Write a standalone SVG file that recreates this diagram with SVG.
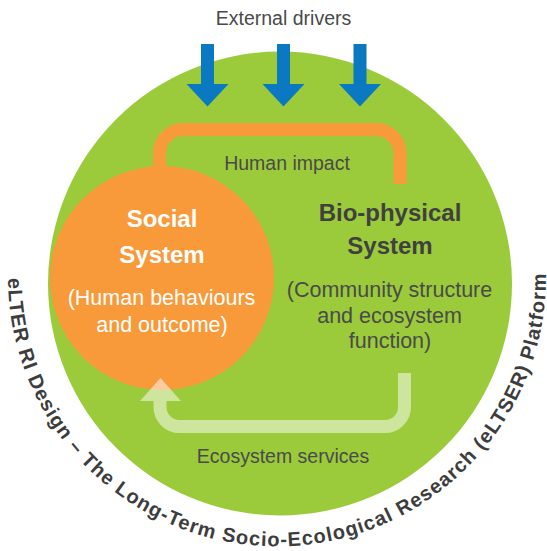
<svg xmlns="http://www.w3.org/2000/svg" width="547" height="551" viewBox="0 0 547 551">
  <style>
    .lbl { font-family: "Liberation Sans", Arial, sans-serif; fill: #4a4a4a; text-anchor: middle; }
    .small { font-size: 19.5px; }
    .desc { font-size: 21.5px; }
    .bold { font-size: 24px; font-weight: bold; }
    .white { fill: #ffffff; }
    .dark { fill: #404040; }
    .driver { fill: #0a79c1; }
  </style>
  <defs>
    <path id="ringPath" d="M 8,278 A 269 269 0 1 0 545.9,270"/>
    <polygon id="driverArrow" points="-6.5,0 6.5,0 6.5,40 21,40 0,62.5 -21,40 -6.5,40"/>
  </defs>
  <rect width="547" height="551" fill="#ffffff"/>

  <g id="bio-physical-system">
    <circle cx="280" cy="283.5" r="232" fill="#9bcb3b"/>
    <text class="lbl bold dark" x="390" y="221">Bio-physical</text>
    <text class="lbl bold dark" x="390" y="254">System</text>
    <text class="lbl desc" x="389.5" y="297">(Community structure</text>
    <text class="lbl desc" x="389.5" y="323">and ecosystem</text>
    <text class="lbl desc" x="390" y="348">function)</text>
  </g>

  <g id="external-drivers">
    <text class="lbl small" x="283.5" y="25">External drivers</text>
    <use href="#driverArrow" class="driver" x="207.5" y="44"/>
    <use href="#driverArrow" class="driver" x="283.5" y="44"/>
    <use href="#driverArrow" class="driver" x="360" y="44"/>
  </g>

  <g id="connectors">
    <path id="human-impact-path" d="M159.5,190 V153 A23.5 23.5 0 0 1 183,129.5 H376 A24 24 0 0 1 400,153.5 V184" fill="none" stroke="#f8993a" stroke-width="13"/>
  </g>

  <g id="social-system">
    <circle cx="162" cy="278" r="112" fill="#f8993a"/>
    <text class="lbl bold white" x="162" y="227">Social</text>
    <text class="lbl bold white" x="162" y="263">System</text>
    <text class="lbl desc white" x="161.5" y="305">(Human behaviours</text>
    <text class="lbl desc white" x="162" y="332">and outcome)</text>
  </g>

  <g id="connector-labels">
    <text class="lbl small" x="287" y="170">Human impact</text>
    <text class="lbl small" x="283" y="463">Ecosystem services</text>
  </g>

  <g id="ecosystem-services-arrow" opacity="0.5">
    <path d="M404.5,373 V407 A19.5 19.5 0 0 1 385,426.5 H179.5 A19.5 19.5 0 0 1 160,407 V399" fill="none" stroke="#ffffff" stroke-width="13"/>
    <polygon points="140,401 181,401 160.5,378" fill="#ffffff"/>
  </g>

  <g id="platform-label">
    <text font-family="'Liberation Sans', Arial, sans-serif" font-size="20" font-weight="bold" fill="#3d3d3d" letter-spacing="1.05">
      <textPath href="#ringPath">eLTER RI Design – The Long-Term Socio-Ecological Research (eLTSER) Platform</textPath>
    </text>
  </g>
</svg>
